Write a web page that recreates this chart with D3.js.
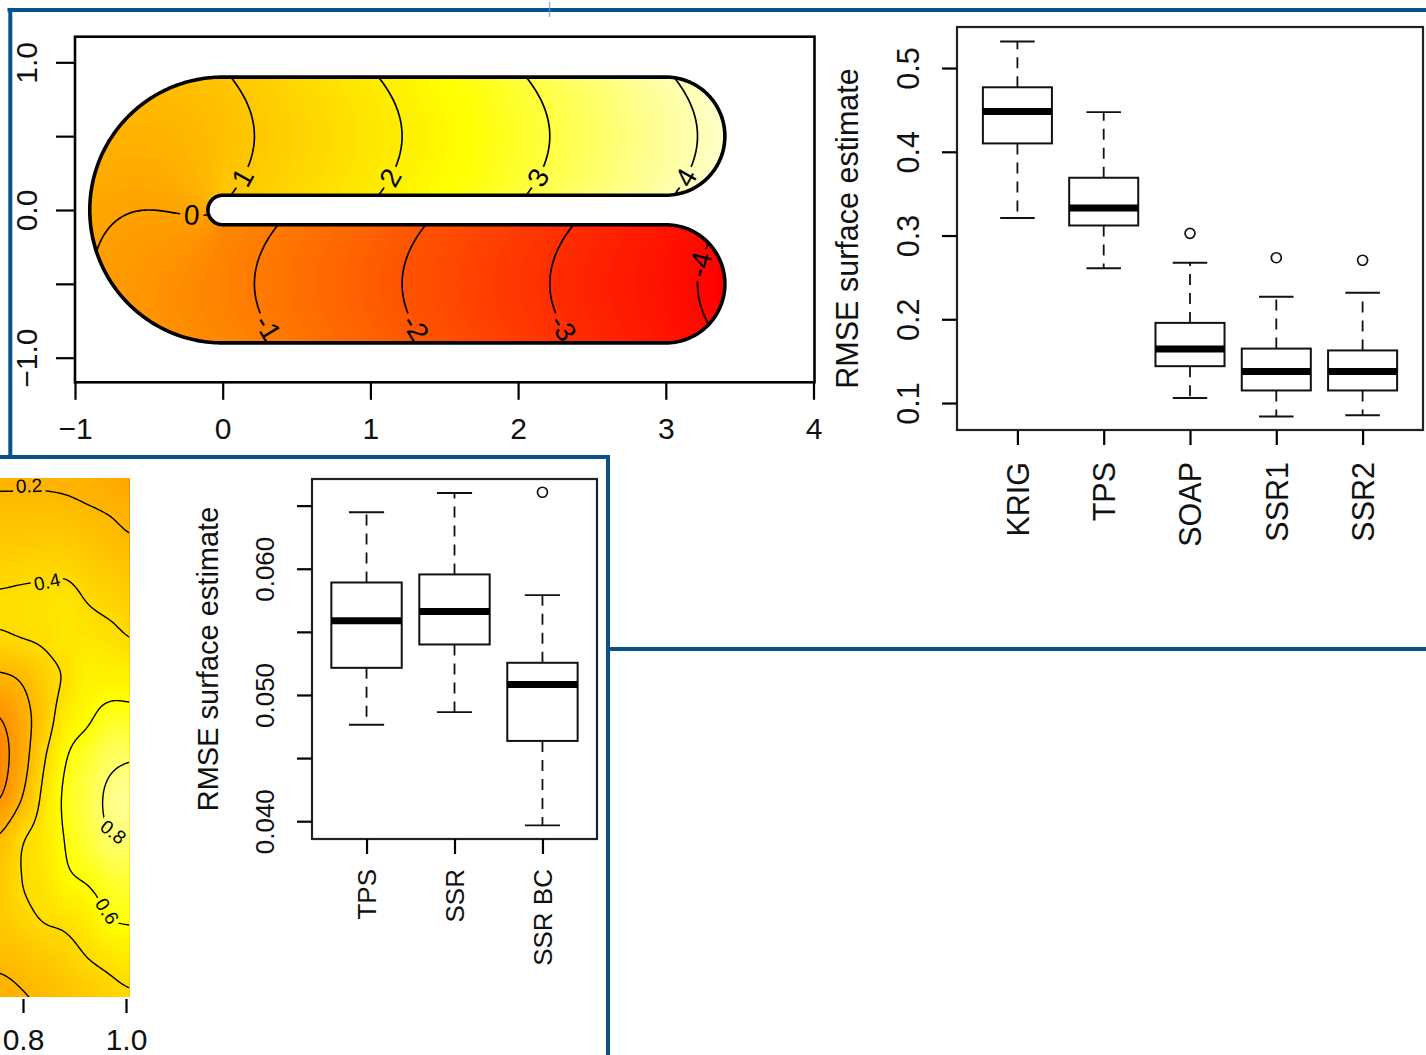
<!DOCTYPE html>
<html>
<head>
<meta charset="utf-8">
<script src="https://cdn.jsdelivr.net/npm/d3@7/dist/d3.min.js"></script>
<style>
html,body{margin:0;padding:0;background:#fff;}
svg{display:block;}
</style>
</head>
<body>
<svg id="chart" width="1426" height="1055"></svg>
<script>
// ================= DATA =================
// Panel A: horseshoe domain (true test surface) - axes, contour levels, label spots
const shoeXTicks = [-1, 0, 1, 2, 3, 4];
const shoeXLabels = ["\u22121", "0", "1", "2", "3", "4"];
const shoeYTicks = [-1, -0.5, 0, 0.5, 1];
const shoeYLabels = ["\u22121.0", "", "0.0", "", "1.0"];
const shoeLevels = [-4, -3, -2, -1, 0, 1, 2, 3, 4];
const shoeLabelLevels = [1, 2, 3, 4, -1, -2, -3, -4, 0];
const shoeLabelY = [0.22, 0.22, 0.22, 0.22, -0.8, -0.8, -0.8, -0.37, -0.035];
const shoeLabelXMin = [0, 0, 0, 0, 0, 0, 0, 3.0, -0.4];
const shoeLabelXMax = [3.4, 3.4, 3.4, 3.4, 3.4, 3.4, 3.4, 3.4, -0.17];

// Panel C: simulation 1 RMSE boxplots
const sim1Methods = ["KRIG", "TPS", "SOAP", "SSR1", "SSR2"];
const sim1Low    = [0.321, 0.261, 0.106, 0.084, 0.0855];
const sim1Q1     = [0.410, 0.312, 0.144, 0.115, 0.115];
const sim1Median = [0.448, 0.333, 0.1645, 0.1376, 0.1376];
const sim1Q3     = [0.477, 0.369, 0.1957, 0.165, 0.1628];
const sim1High   = [0.5316, 0.4474, 0.2675, 0.2269, 0.2316];
const sim1Outliers = [[], [], [0.3026], [0.2735], [0.2705]];
const sim1YTicks = [0.1, 0.2, 0.3, 0.4, 0.5];

// Panel D: simulation 2 RMSE boxplots
const sim2Methods = ["TPS", "SSR", "SSR BC"];
const sim2Low    = [0.04764, 0.04864, 0.03967];
const sim2Q1     = [0.05215, 0.05400, 0.04636];
const sim2Median = [0.05588, 0.05661, 0.05082];
const sim2Q3     = [0.05891, 0.05955, 0.05255];
const sim2High   = [0.06448, 0.06600, 0.05791];
const sim2Outliers = [[], [], [0.06606]];
const sim2YTicks = [0.040, 0.045, 0.050, 0.055, 0.060, 0.065];
const sim2YLabels = ["0.040", "", "0.050", "", "0.060", ""];

// Panel B: cropped estimated surface (values on a coarse grid)
const hmCols = [0.755, 0.798, 0.840, 0.883, 0.926, 0.968, 1.011];
const hmRows = [1.000, 0.923, 0.846, 0.769, 0.692, 0.615, 0.538, 0.462, 0.385, 0.308, 0.231, 0.154, 0.077, 0.000];
const hmValues = [
  [0.18, 0.18, 0.18, 0.17, 0.15, 0.13, 0.11],
  [0.257, 0.259, 0.262, 0.256, 0.23, 0.204, 0.17],
  [0.333, 0.339, 0.344, 0.344, 0.311, 0.28, 0.248],
  [0.41, 0.42, 0.43, 0.44, 0.39, 0.356, 0.325],
  [0.38, 0.40, 0.42, 0.46, 0.456, 0.438, 0.40],
  [0.17, 0.22, 0.33, 0.42, 0.52, 0.53, 0.527],
  [0.0, 0.13, 0.30, 0.50, 0.58, 0.65, 0.65],
  [-0.06, 0.12, 0.38, 0.59, 0.68, 0.76, 0.79],
  [0.0, 0.20, 0.44, 0.63, 0.72, 0.83, 0.87],
  [0.22, 0.38, 0.47, 0.61, 0.70, 0.79, 0.80],
  [0.30, 0.40, 0.45, 0.57, 0.62, 0.68, 0.70],
  [0.30, 0.36, 0.41, 0.44, 0.50, 0.60, 0.62],
  [0.23, 0.26, 0.30, 0.34, 0.40, 0.45, 0.50],
  [0.16, 0.19, 0.22, 0.26, 0.30, 0.35, 0.38]
];
const hmLevels = [0, 0.2, 0.4, 0.6, 0.8];
const hmLabelText = ["0.2", "0.4", "0.6", "0.8"];
const hmLabelX = [0.8117, 0.8466, 0.963, 0.975];
const hmLabelY = [0.985, 0.800, 0.167, 0.319];
const hmXTicks = [0.8, 1.0];

// ================= DRAWING =================
const svg = d3.select("#chart");
const FONT = '"Liberation Sans", Arial, Helvetica, sans-serif';
const BLUE = "#0a5189";
const INK = "#111";
const defs = svg.append("defs");

function heat(t) { // R heat.colors-like ramp
  t = Math.max(0, Math.min(1, t));
  if (t <= 0.75) return d3.rgb(255, Math.round(255 * t / 0.75), 0).formatHex();
  return d3.rgb(255, 255, Math.round(255 * (t - 0.75) / 0.25)).formatHex();
}
function normAngle(a) { while (a > 90) a -= 180; while (a <= -90) a += 180; return a; }

// ---------- Panel A ----------
const xA = d3.scaleLinear().domain([-1, 4]).range([75, 813.5]);
const yA = d3.scaleLinear().domain([-1.17, 1.17]).range([382.8, 37.2]);

function fsTest(x, y) {
  const r = 0.5, q = Math.PI * r / 2;
  let a, d;
  if (x >= 0 && y > 0) { a = q + x; d = y - r; }
  else if (x >= 0 && y <= 0) { a = -q - x; d = -r - y; }
  else { a = -Math.atan(y / x) * r; d = Math.sqrt(x * x + y * y) - r; }
  return a + d * d;
}

const stA = 0.01, x0A = -0.95, y0A = -0.95, nxA = 441, nyA = 191;
const valsA = new Float64Array(nxA * nyA);
for (let j = 0; j < nyA; j++) for (let i = 0; i < nxA; i++) valsA[j * nxA + i] = fsTest(x0A + i * stA, y0A + j * stA);
const pathA = d3.geoPath(d3.geoTransform({ point(x, y) { this.stream.point(xA(x0A + (x - 0.5) * stA), yA(y0A + (y - 0.5) * stA)); } }));
const contA = d3.contours().size([nxA, nyA]).smooth(true);

const shoePts = [];
function arcPts(cx, cy, r, a0, a1, n) { for (let k = 0; k <= n; k++) { const a = a0 + (a1 - a0) * k / n; shoePts.push([cx + r * Math.cos(a), cy + r * Math.sin(a)]); } }
arcPts(3, 0.5, 0.4, Math.PI / 2, -Math.PI / 2, 80);
arcPts(0, 0, 0.1, Math.PI / 2, 1.5 * Math.PI, 40);
arcPts(3, -0.5, 0.4, Math.PI / 2, -Math.PI / 2, 80);
arcPts(0, 0, 0.9, 1.5 * Math.PI, 0.5 * Math.PI, 160);
const shoeD = d3.line().x(d => xA(d[0])).y(d => yA(d[1]))(shoePts) + "Z";
defs.append("clipPath").attr("id", "clipA").append("path").attr("d", shoeD);

const gA = svg.append("g").attr("clip-path", "url(#clipA)");
const fMinA = -4.19, fMaxA = 4.65, stepFA = 0.06;
d3.range(-4.3, 4.3, stepFA).forEach(th => {
  gA.append("path").attr("d", pathA(contA.contour(valsA, th)))
    .attr("fill", heat((th + stepFA / 2 - fMinA) / (fMaxA - fMinA)));
});

const maskA = defs.append("mask").attr("id", "maskA").attr("maskUnits", "userSpaceOnUse")
  .attr("x", 0).attr("y", 0).attr("width", 1426).attr("height", 1055);
maskA.append("rect").attr("x", 0).attr("y", 0).attr("width", 1426).attr("height", 1055).attr("fill", "#fff");
const linesA = gA.append("g").attr("mask", "url(#maskA)");
shoeLevels.forEach(lv => linesA.append("path").attr("d", pathA(contA.contour(valsA, lv)))
  .attr("fill", "none").attr("stroke", "#000").attr("stroke-width", 1.7));

const labA = shoeLabelLevels.map((lv, k) => {
  let lo = shoeLabelXMin[k], hi = shoeLabelXMax[k];
  const y = shoeLabelY[k];
  const g = x => fsTest(x, y) - lv;
  let glo = g(lo);
  for (let it = 0; it < 60; it++) { const mid = (lo + hi) / 2, gm = g(mid); if ((gm > 0) === (glo > 0)) { lo = mid; glo = gm; } else hi = mid; }
  const x = (lo + hi) / 2, h = 1e-4;
  const fx = (fsTest(x + h, y) - fsTest(x - h, y)) / (2 * h);
  const fy = (fsTest(x, y + h) - fsTest(x, y - h)) / (2 * h);
  const sx = xA(1) - xA(0), sy = yA(0) - yA(1);
  const ang = normAngle(Math.atan2(-fx * sy, -fy * sx) * 180 / Math.PI);
  return { px: xA(x), py: yA(y), ang, text: lv < 0 ? "-" + (-lv) : String(lv) };
});
const labGA = svg.append("g");
labA.forEach(l => {
  const t = labGA.append("text").attr("transform", `translate(${l.px},${l.py}) rotate(${l.ang})`)
    .attr("text-anchor", "middle").attr("dominant-baseline", "central")
    .attr("font-family", FONT).attr("font-size", 28).attr("fill", "#000").text(l.text);
  const w = t.node().getComputedTextLength() + 8;
  maskA.append("rect").attr("transform", `translate(${l.px},${l.py}) rotate(${l.ang})`)
    .attr("x", -w / 2).attr("y", -12).attr("width", w).attr("height", 24).attr("fill", "#000");
});

svg.append("path").attr("d", shoeD).attr("fill", "none").attr("stroke", "#000")
  .attr("stroke-width", 3.6).attr("stroke-linejoin", "round");
svg.append("rect").attr("x", 75).attr("y", 36.7).attr("width", 739.5).attr("height", 345.6)
  .attr("fill", "none").attr("stroke", "#000").attr("stroke-width", 2.6);

function styleAxis(g, fs) {
  g.attr("font-family", FONT).attr("font-size", fs);
  g.select(".domain").remove();
  g.selectAll(".tick line").attr("stroke", "#000").attr("stroke-width", 2.2);
  g.selectAll(".tick text").attr("fill", INK);
}
const axAx = svg.append("g").attr("transform", "translate(0,382.8)")
  .call(d3.axisBottom(xA).tickValues(shoeXTicks).tickFormat((d, i) => shoeXLabels[i]).tickSize(17).tickPadding(18));
styleAxis(axAx, 30);
const axAy = svg.append("g").attr("transform", "translate(75,0)")
  .call(d3.axisLeft(yA).tickValues(shoeYTicks).tickFormat((d, i) => shoeYLabels[i]).tickSize(19));
styleAxis(axAy, 30);
axAy.selectAll(".tick text").attr("x", null).attr("dy", null).attr("text-anchor", "middle")
  .attr("transform", "translate(-38,0) rotate(-90)");

// ---------- Boxplot helper ----------
function drawBoxplot(c) {
  const g = svg.append("g");
  const bw = c.xs(1.4) - c.xs(0.6), cw = bw / 2;
  c.names.forEach((nm, i) => {
    const cx = c.xs(i + 1);
    [[c.q3[i], c.high[i]], [c.q1[i], c.low[i]]].forEach(([a, b]) => {
      g.append("line").attr("x1", cx).attr("x2", cx).attr("y1", c.ys(a)).attr("y2", c.ys(b))
        .attr("stroke", INK).attr("stroke-width", 1.8).attr("stroke-dasharray", "11,8");
      g.append("line").attr("x1", cx - cw / 2).attr("x2", cx + cw / 2).attr("y1", c.ys(b)).attr("y2", c.ys(b))
        .attr("stroke", INK).attr("stroke-width", 1.9);
    });
    g.append("rect").attr("x", cx - bw / 2).attr("width", bw).attr("y", c.ys(c.q3[i]))
      .attr("height", c.ys(c.q1[i]) - c.ys(c.q3[i])).attr("fill", "#fff").attr("stroke", INK).attr("stroke-width", 2);
    g.append("line").attr("x1", cx - bw / 2).attr("x2", cx + bw / 2).attr("y1", c.ys(c.med[i])).attr("y2", c.ys(c.med[i]))
      .attr("stroke", "#000").attr("stroke-width", 7);
    c.outs[i].forEach(v => g.append("circle").attr("cx", cx).attr("cy", c.ys(v)).attr("r", 5)
      .attr("fill", "none").attr("stroke", INK).attr("stroke-width", 1.7));
  });
  const [x0, x1] = c.xs.range(), [y0, y1] = c.ys.range();
  svg.append("rect").attr("x", x0).attr("y", y1).attr("width", x1 - x0).attr("height", y0 - y1)
    .attr("fill", "none").attr("stroke", "#222").attr("stroke-width", 2.2);
  const ay = svg.append("g").attr("transform", `translate(${x0},0)`)
    .call(d3.axisLeft(c.ys).tickValues(c.yTicks).tickFormat((d, i) => c.yLabels[i]).tickSize(15));
  styleAxis(ay, c.fsTick);
  ay.selectAll(".tick text").attr("x", null).attr("dy", null).attr("text-anchor", "middle")
    .attr("transform", "translate(-38.5,0) rotate(-90)");
  const ax = svg.append("g").attr("transform", `translate(0,${y0})`)
    .call(d3.axisBottom(c.xs).tickValues(c.names.map((d, i) => i + 1)).tickFormat((d, i) => c.names[i]).tickSize(15));
  styleAxis(ax, c.fsTick);
  ax.selectAll(".tick text").attr("y", null).attr("dy", null).attr("text-anchor", "end")
    .attr("transform", `translate(${0.36 * c.fsTick},${c.labOff}) rotate(-90)`);
  svg.append("text").attr("transform", `translate(${c.titleX},${(y0 + y1) / 2}) rotate(-90)`)
    .attr("text-anchor", "middle").attr("font-family", FONT).attr("font-size", c.fsTitle).attr("fill", INK)
    .text("RMSE surface estimate");
}

// ---------- Panel C ----------
const xC = d3.scaleLinear().domain([0.3, 5.7]).range([957, 1423]);
const yC = d3.scaleLinear().domain([0.0678, 0.549]).range([430, 27]);
drawBoxplot({ xs: xC, ys: yC, names: sim1Methods, low: sim1Low, q1: sim1Q1, med: sim1Median, q3: sim1Q3,
  high: sim1High, outs: sim1Outliers, yTicks: sim1YTicks, yLabels: sim1YTicks.map(d3.format(".1f")),
  fsTick: 30.5, fsTitle: 30.5, labOff: 32, titleX: 858 });

// ---------- Panel D ----------
const xD = d3.scaleLinear().domain([0.38, 3.62]).range([312, 597]);
const yD = d3.scaleLinear().domain([0.03859, 0.06711]).range([839, 479]);
drawBoxplot({ xs: xD, ys: yD, names: sim2Methods, low: sim2Low, q1: sim2Q1, med: sim2Median, q3: sim2Q3,
  high: sim2High, outs: sim2Outliers, yTicks: sim2YTicks, yLabels: sim2YLabels,
  fsTick: 26, fsTitle: 29, labOff: 30, titleX: 218 });

// ---------- Panel B (cropped surface) ----------
const xB = d3.scaleLinear().domain([0.8, 1.0]).range([23, 126]);
const yB = d3.scaleLinear().domain([0, 1]).range([998, 478]);
const nc = hmCols.length, nr = hmRows.length;
const uToX = d3.scaleLinear().domain([0, nc - 1]).range([hmCols[0], hmCols[nc - 1]]);
const vToY = d3.scaleLinear().domain([0, nr - 1]).range([hmRows[0], hmRows[nr - 1]]);
function cr(p0, p1, p2, p3, t) { return 0.5 * ((2 * p1) + (-p0 + p2) * t + (2 * p0 - 5 * p1 + 4 * p2 - p3) * t * t + (-p0 + 3 * p1 - 3 * p2 + p3) * t * t * t); }
function hmAt(u, v) {
  const i = Math.min(nc - 2, Math.floor(u)), j = Math.min(nr - 2, Math.floor(v));
  const tu = u - i, tv = v - j;
  const G = (a, b) => hmValues[Math.max(0, Math.min(nr - 1, b))][Math.max(0, Math.min(nc - 1, a))];
  const rows = [];
  for (let m = -1; m <= 2; m++) rows.push(cr(G(i - 1, j + m), G(i, j + m), G(i + 1, j + m), G(i + 2, j + m), tu));
  return cr(rows[0], rows[1], rows[2], rows[3], tv);
}
const nxB = 100, nyB = 360;
const valsB = new Float64Array(nxB * nyB);
for (let b = 0; b < nyB; b++) for (let a = 0; a < nxB; a++)
  valsB[b * nxB + a] = hmAt(a * (nc - 1) / (nxB - 1), b * (nr - 1) / (nyB - 1));
const pathB = d3.geoPath(d3.geoTransform({ point(x, y) {
  const u = (x - 0.5) * (nc - 1) / (nxB - 1), v = (y - 0.5) * (nr - 1) / (nyB - 1);
  this.stream.point(xB(uToX(u)), yB(vToY(v)));
} }));
const contB = d3.contours().size([nxB, nyB]).smooth(true);
defs.append("clipPath").attr("id", "clipB").append("rect")
  .attr("x", xB(hmCols[0])).attr("y", yB(1)).attr("width", xB(1.006) - xB(hmCols[0])).attr("height", yB(0.002) - yB(1));
const gB = svg.append("g").attr("clip-path", "url(#clipB)");
const fMinB = -0.8, fMaxB = 1.06, stepFB = 0.015;
d3.range(-0.4, 1.0, stepFB).forEach(th => {
  gB.append("path").attr("d", pathB(contB.contour(valsB, th)))
    .attr("fill", heat((th + stepFB / 2 - fMinB) / (fMaxB - fMinB)));
});
const maskB = defs.append("mask").attr("id", "maskB").attr("maskUnits", "userSpaceOnUse")
  .attr("x", 0).attr("y", 0).attr("width", 1426).attr("height", 1055);
maskB.append("rect").attr("x", 0).attr("y", 0).attr("width", 1426).attr("height", 1055).attr("fill", "#fff");
const linesB = gB.append("g").attr("mask", "url(#maskB)");
hmLevels.forEach(lv => linesB.append("path").attr("d", pathB(contB.contour(valsB, lv)))
  .attr("fill", "none").attr("stroke", "#000").attr("stroke-width", 1.4));
const labGB = gB.append("g");
const pu = xB(uToX(1)) - xB(uToX(0)), pv = yB(vToY(1)) - yB(vToY(0));
hmLabelText.forEach((txt, k) => {
  const u = uToX.invert(hmLabelX[k]), v = vToY.invert(hmLabelY[k]), h = 1e-3;
  const fu = (hmAt(u + h, v) - hmAt(u - h, v)) / (2 * h), fv = (hmAt(u, v + h) - hmAt(u, v - h)) / (2 * h);
  const ang = normAngle(Math.atan2(fu * pv, -fv * pu) * 180 / Math.PI);
  const px = xB(hmLabelX[k]), py = yB(hmLabelY[k]);
  const t = labGB.append("text").attr("transform", `translate(${px},${py}) rotate(${ang})`)
    .attr("text-anchor", "middle").attr("dominant-baseline", "central")
    .attr("font-family", FONT).attr("font-size", 19).attr("fill", "#000").text(txt);
  const w = t.node().getComputedTextLength() + 6;
  maskB.append("rect").attr("transform", `translate(${px},${py}) rotate(${ang})`)
    .attr("x", -w / 2).attr("y", -8).attr("width", w).attr("height", 16).attr("fill", "#000");
});
const axB = svg.append("g").attr("transform", "translate(0,999)")
  .call(d3.axisBottom(xB).tickValues(hmXTicks).tickFormat(d3.format(".1f")).tickSize(14).tickPadding(16));
styleAxis(axB, 30);

// ---------- Blue panel frames ----------
const frame = svg.append("g").attr("stroke", BLUE).attr("fill", "none").attr("stroke-width", 4);
frame.append("path").attr("d", "M7.5,10H1426");
frame.append("path").attr("d", "M10.3,8V457");
frame.append("path").attr("d", "M0,457H610");
frame.append("path").attr("d", "M608,455V1055");
frame.append("path").attr("d", "M606,649H1426");
svg.append("path").attr("d", "M549.5,2V17").attr("stroke", "#5b9bd5").attr("stroke-width", 1.5).attr("opacity", 0.7);
</script>
</body>
</html>
